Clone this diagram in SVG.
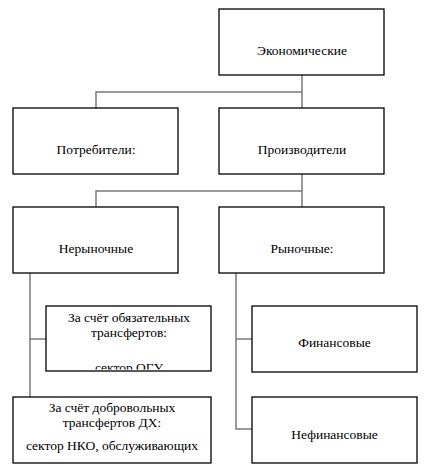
<svg xmlns="http://www.w3.org/2000/svg" width="424" height="469" viewBox="0 0 424 469">
<style>
.box{fill:#fff;stroke:#000;stroke-width:1.3}
.t{font-family:"Liberation Serif","Times New Roman",serif;font-size:13.5px;fill:#000;text-anchor:middle}
.c{fill:none;stroke:#7a7a7a;stroke-width:1.5}
</style>
<defs>
<clipPath id="clipA"><rect x="46" y="306" width="165" height="63.5"/></clipPath>
<clipPath id="clipB"><rect x="13" y="397" width="198" height="65"/></clipPath>
</defs>
<g id="connectors">
<path class="c" d="M302 75V108M96 108V92H302"/>
<path class="c" d="M302 174V207M96 207V191H302"/>
<path class="c" d="M30 273V429H45M30 339H46"/>
<path class="c" d="M236 273V429H252M236 339H252"/>
</g>
<g id="n-econ"><rect class="box" x="219" y="9" width="165" height="66"/><text class="t" x="302" y="55">Экономические</text></g>
<g id="n-potr"><rect class="box" x="13" y="108" width="165" height="66"/><text class="t" x="96" y="154">Потребители:</text></g>
<g id="n-proizv"><rect class="box" x="219" y="108" width="165" height="66"/><text class="t" x="302" y="154">Производители</text></g>
<g id="n-nerynoch"><rect class="box" x="13" y="207" width="165" height="66"/><text class="t" x="96" y="253">Нерыночные</text></g>
<g id="n-rynoch"><rect class="box" x="219" y="207" width="165" height="66"/><text class="t" x="302" y="253">Рыночные:</text></g>
<g id="n-obyaz"><rect class="box" x="46" y="306" width="165" height="65"/>
<g clip-path="url(#clipA)"><text class="t" x="129" y="322">За счёт обязательных</text><text class="t" x="129" y="337">трансфертов:</text><text class="t" x="129" y="372">сектор ОГУ</text></g></g>
<g id="n-dobrov"><rect class="box" x="13" y="397" width="198" height="66"/>
<g clip-path="url(#clipB)"><text class="t" x="112" y="412">За счёт добровольных</text><text class="t" x="112" y="427">трансфертов ДХ:</text><text class="t" x="112" y="450">сектор НКО, обслуживающих</text></g></g>
<g id="n-fin"><rect class="box" x="252" y="306" width="165" height="66"/><text class="t" x="334.5" y="347">Финансовые</text></g>
<g id="n-nefin"><rect class="box" x="252" y="397" width="165" height="66"/><text class="t" x="334.5" y="439">Нефинансовые</text></g>
</svg>
